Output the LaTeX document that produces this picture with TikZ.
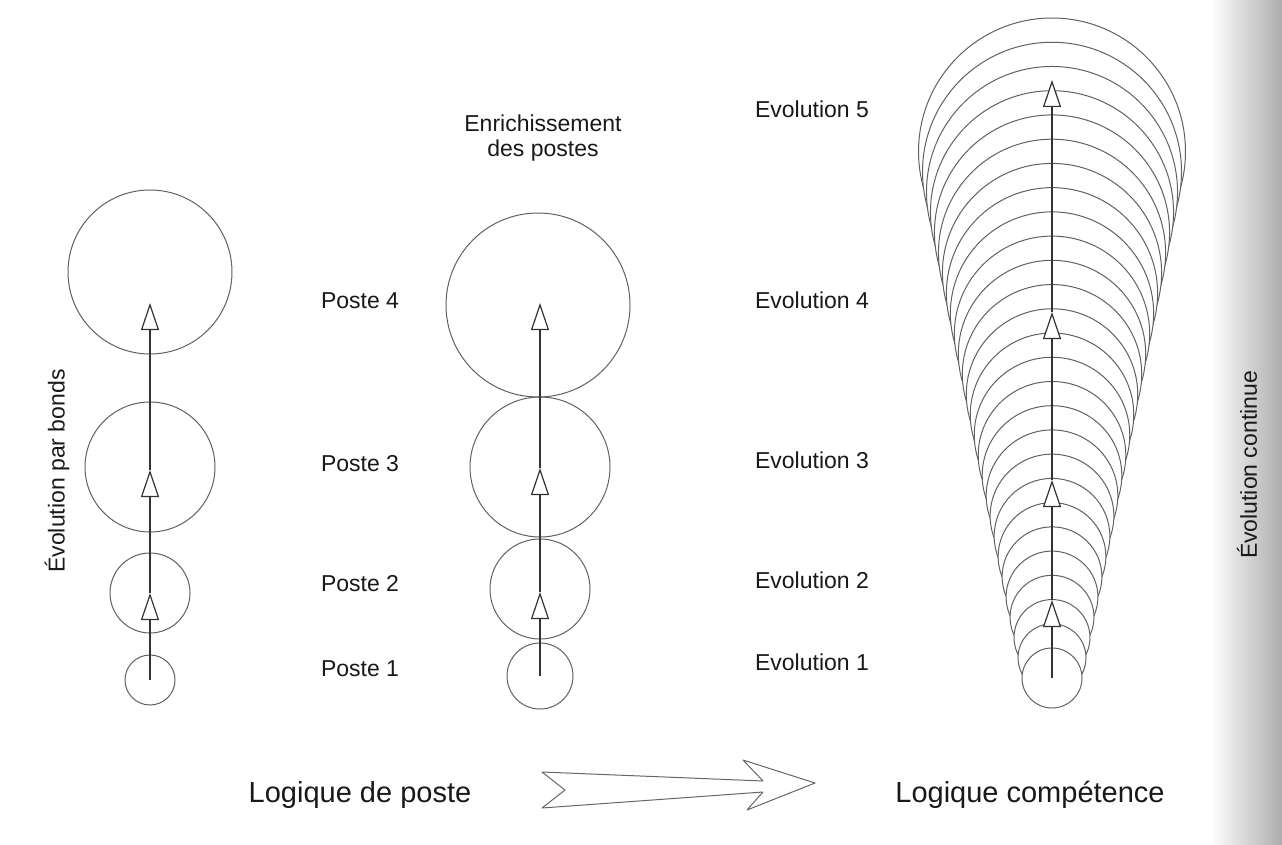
\documentclass[tikz,border=0pt]{standalone}
\usepackage{fontspec}
\setmainfont{Liberation Sans}
\usetikzlibrary{arrows.meta}
\begin{document}
\begin{tikzpicture}[x=1pt,y=-1pt,
  ring/.style={draw=black!62, line width=1pt},
  axis/.style={draw=black!80, line width=1.3pt,
    -{Triangle[length=27pt,width=18pt,fill=white,line width=1.2pt]}},
  lbl/.style={font=\fontsize{23}{27}\selectfont, anchor=base, text=black!90, inner sep=0pt},
  big/.style={font=\fontsize{29}{34}\selectfont, anchor=base, text=black!90, inner sep=0pt},
]
\useasboundingbox (0,0) rectangle (1282,845);
\fill[white] (0,0) rectangle (1282,845);
\shade[left color=white, right color=black!32] (1210,0) rectangle (1282,845);

% ---------- left column: evolution par bonds ----------
\coordinate (L1) at (150,680);
\coordinate (L2) at (150,593);
\coordinate (L3) at (150,467);
\coordinate (L4) at (150,272);
\coordinate (La2) at (150,593);
\coordinate (La3) at (150,470);
\coordinate (La4) at (150,303);
\draw[ring] (L1) circle[radius=25pt];
\draw[ring] (L2) circle[radius=40pt];
\draw[ring] (L3) circle[radius=65pt];
\draw[ring] (L4) circle[radius=82pt];
\draw[axis] (L1) -- (La2);
\draw[axis] (La2) -- (La3);
\draw[axis] (La3) -- (La4);

% ---------- middle column: enrichissement ----------
\coordinate (M1) at (540,676);
\coordinate (M2) at (540,589);
\coordinate (M3) at (540,467);
\coordinate (M4) at (538,305);
\coordinate (Ma2) at (540,592);
\coordinate (Ma3) at (540,468);
\coordinate (Ma4) at (540,303);
\draw[ring] (M1) circle[radius=33pt];
\draw[ring] (M2) circle[radius=50pt];
\draw[ring] (M3) circle[radius=70pt];
\draw[ring] (M4) circle[radius=92pt];
\draw[axis] (M1) -- (Ma2);
\draw[axis] (Ma2) -- (Ma3);
\draw[axis] (Ma3) -- (Ma4);

% ---------- right cone: evolution continue (largest first, each filled) ----------
\foreach \i in {26,25,...,0} {
  \pgfmathsetmacro\cy{678-20.25*\i}
  \pgfmathsetmacro\rr{30+3.98*\i}
  \draw[ring, fill=white] (1052,\cy) circle[radius=\rr pt];
}
\coordinate (R1) at (1052,678);
\coordinate (Ra2) at (1052,600);
\coordinate (Ra3) at (1052,480);
\coordinate (Ra4) at (1052,312);
\coordinate (Ra5) at (1052,80);
\draw[axis] (R1) -- (Ra2);
\draw[axis] (Ra2) -- (Ra3);
\draw[axis] (Ra3) -- (Ra4);
\draw[axis] (Ra4) -- (Ra5);

% ---------- labels ----------
\node[lbl] (p4) at (360,308) {Poste 4};
\node[lbl] (p3) at (360,471) {Poste 3};
\node[lbl] (p2) at (360,591) {Poste 2};
\node[lbl] (p1) at (360,676) {Poste 1};

\node[lbl] (e5) at (812,118) {Evolution 5};
\node[lbl] (e4) at (812,308) {Evolution 4};
\node[lbl] (e3) at (812,468) {Evolution 3};
\node[lbl] (e2) at (812,588) {Evolution 2};
\node[lbl] (e1) at (812,670) {Evolution 1};

\node[lbl] (en1) at (543,132) {Enrichissement};
\node[lbl] (en2) at (543,157) {des postes};

\node[lbl, anchor=center, rotate=90] (vb) at (57,471) {Évolution par bonds};
\node[lbl, anchor=center, rotate=90] (vc) at (1247,465) {Évolution continue};

\node[big] (lp) at (360,802) {Logique de poste};
\node[big] (lc) at (1030,802) {Logique compétence};

% ---------- big transition arrow ----------
\draw[black!60, line width=1pt, line join=round]
  (542,772) -- (763,781) -- (743,760) -- (815,783) -- (747,810)
  -- (763,792) -- (542,808) -- (565,790) -- cycle;
\end{tikzpicture}
\end{document}
